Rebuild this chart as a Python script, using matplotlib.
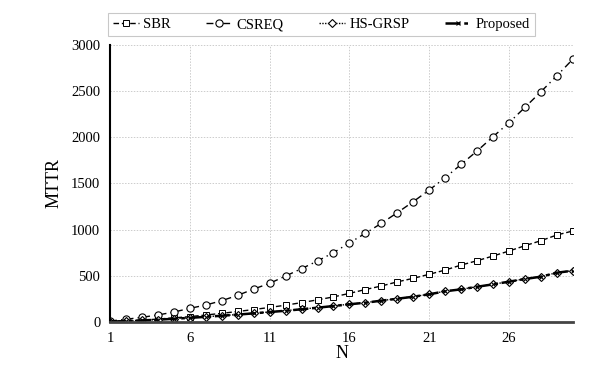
import numpy as np
import matplotlib
matplotlib.use("Agg")
import matplotlib.pyplot as plt

plt.rcParams['font.family'] = ['Liberation Serif', 'DejaVu Serif']

# values
n = np.arange(1, 31)
sbr = [5, 12, 20, 32, 45, 58, 76, 94, 114, 135, 158, 182, 210, 240, 272,
       310, 352, 390, 435, 473, 517, 563, 617, 664, 715, 769, 827, 881, 943, 986]
csreq = [11, 29, 51, 76, 108, 148, 184, 231, 289, 357, 419, 498, 578, 661, 751,
         857, 961, 1069, 1184, 1304, 1430, 1564, 1708, 1853, 2008, 2159, 2326, 2495, 2668, 2848]
hsgrsp = [5, 11, 18, 26, 36, 46, 57, 69, 81, 95, 109, 123, 139, 156, 174,
          193, 210, 232, 253, 275, 301, 334, 355, 383, 409, 438, 467, 492, 535, 557]
proposed = [4, 10, 17, 25, 35, 45, 56, 68, 80, 94, 108, 122, 138, 155, 173,
            192, 209, 231, 252, 274, 300, 333, 354, 382, 408, 437, 466, 491, 534, 556]

fig = plt.figure(figsize=(6.06, 3.73), dpi=100)
ax = fig.add_axes([0.1815, 0.1367, 0.764, 0.7427])

ax.plot(n, sbr, linestyle=(0, (4, 2)), color='black', linewidth=1.0,
        marker='s', markersize=4.8, markerfacecolor='white', markeredgewidth=0.7, label='SBR')
ax.plot(n, csreq, linestyle=(0, (5, 3, 1, 3)), color='black', linewidth=1.0,
        marker='o', markersize=5.2, markerfacecolor='white', markeredgewidth=0.8, label='CSREQ')
ax.plot(n, hsgrsp, linestyle=(0, (1, 1)), color='black', linewidth=1.0,
        marker='D', markersize=3.8, markerfacecolor='white', markeredgewidth=0.8, label='HS-GRSP')
ax.plot(n, proposed, linestyle=(0, (6, 1.5, 1.5, 1.5)), color='black', linewidth=1.8,
        marker='x', markersize=2.5, markeredgewidth=0.8, label='Proposed')

ax.set_xlim(1, 30)
ax.set_ylim(0, 3000)
ax.set_xticks([1, 6, 11, 16, 21, 26])
ax.set_yticks(np.arange(0, 3001, 500))
ax.grid(True, linestyle=(0, (1.5, 1.5)), color='#cccccc', linewidth=0.7)
ax.axvline(30, linestyle=(0, (1.5, 1.5)), color='#cccccc', linewidth=0.7)
ax.set_axisbelow(True)
ax.tick_params(length=0, labelsize=10.5, pad=7)

for s in ['top', 'right']:
    ax.spines[s].set_visible(False)
ax.spines['left'].set_linewidth(1.5)
ax.spines['bottom'].set_linewidth(2.0)
ax.spines['bottom'].set_color('#444444')

ax.set_xlabel('N', fontsize=13, labelpad=0)
ax.set_ylabel('MTTR', fontsize=13, labelpad=6)

leg = fig.legend(loc='upper center', bbox_to_anchor=(0.53, 0.985), ncol=4, fontsize=10.5,
                 frameon=True, fancybox=False, edgecolor='#bbbbbb', handlelength=1.8,
                 handletextpad=0.3, columnspacing=2.4, borderpad=0.35)
leg.get_frame().set_linewidth(0.8)

fig.savefig('out.png', dpi=100)
